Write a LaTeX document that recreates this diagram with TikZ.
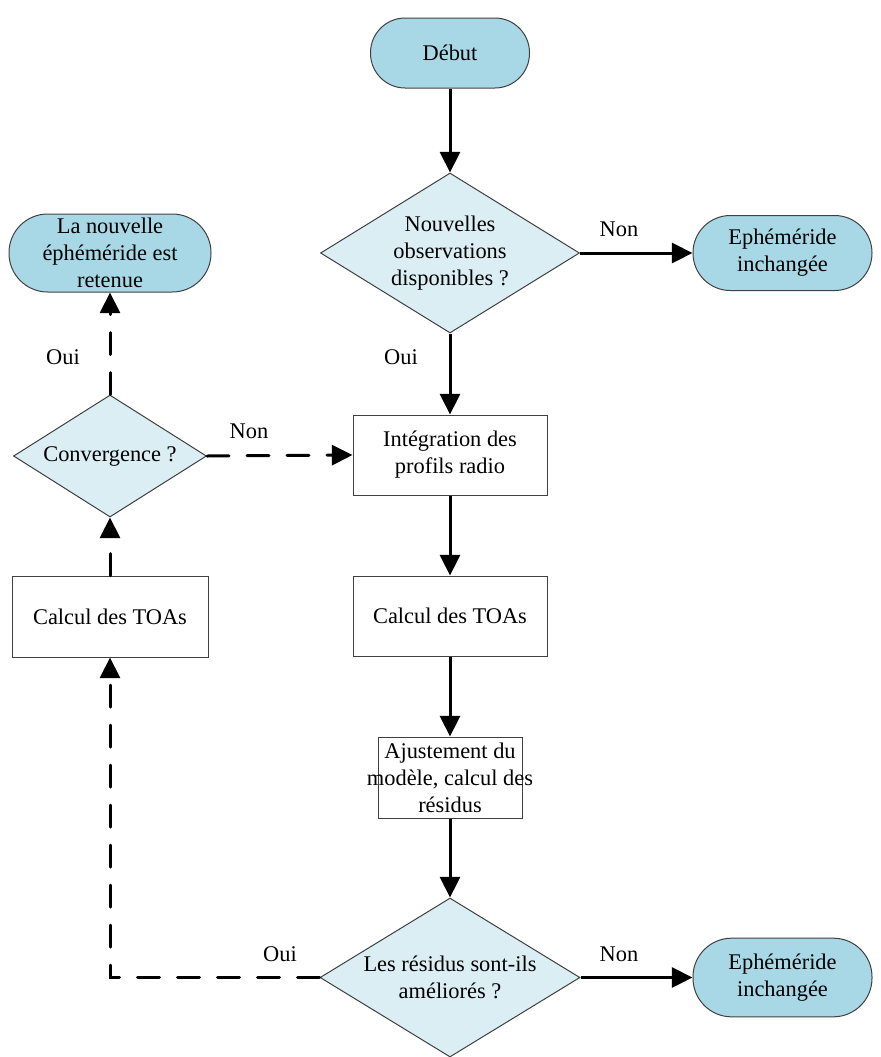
\documentclass[tikz,border=0pt]{standalone}
\usepackage{fontspec}
\setmainfont{Liberation Serif}
\usetikzlibrary{shapes.geometric,arrows.meta}
\definecolor{termfill}{RGB}{168,216,230}
\definecolor{diafill}{RGB}{218,238,243}
\definecolor{edgegray}{RGB}{64,64,64}
\begin{document}
\begin{tikzpicture}[x=0.75pt,y=-0.75pt,
  every node/.style={font=\fontsize{16.8}{20.25}\selectfont, text=black},
  term/.style={draw=edgegray, line width=0.75pt, fill=termfill, rectangle, inner sep=0pt, align=center},
  procbox/.style={draw=edgegray, line width=0.75pt, fill=white, rectangle, inner sep=0pt, align=center},
  decision/.style={draw=edgegray, line width=0.75pt, fill=diafill, diamond, inner sep=0pt},
  txt/.style={align=center, inner sep=0pt},
  lbl/.style={inner sep=0pt},
  arr/.style={line width=2.25pt, -{Triangle[length=15.5pt,width=15pt]}},
  darr/.style={line width=2.25pt, line cap=round, dash pattern=on 16.5pt off 13.5pt, -{Triangle[length=15.5pt,width=15pt]}}
]
\useasboundingbox (0,0) rectangle (881,1057);

% main column
\node[term, minimum width=119.25pt, minimum height=52.5pt, rounded corners=26pt] (debut) at (450,53) {Début};
\node[decision, minimum width=194.25pt, minimum height=120pt] (d1) at (450,253) {};
\node[txt] (d1t) at (d1) {Nouvelles\\observations\\disponibles ?};
\node[term, minimum width=134.25pt, minimum height=56.25pt, rounded corners=28pt] (eph1) at (782.5,253) {Ephéméride\\inchangée};
\node[procbox, minimum width=145.5pt, minimum height=60pt] (box1) at (450,455) {Intégration des\\profils radio};
\node[procbox, minimum width=145.5pt, minimum height=60pt] (box2) at (450,616) {Calcul des TOAs};
\node[procbox, minimum width=108pt, minimum height=60.75pt] (box3) at (450,777.5) {};
\node[txt] (box3t) at (box3) {Ajustement du\\modèle, calcul des\\résidus};
\node[decision, minimum width=195pt, minimum height=119.25pt] (d2) at (450,977.5) {};
\node[txt] (d2t) at (d2) {Les résidus sont-ils\\améliorés ?};
\node[term, minimum width=134.25pt, minimum height=59pt, rounded corners=29pt] (eph2) at (782.5,977.5) {Ephéméride\\inchangée};

% left column
\node[procbox, minimum width=147pt, minimum height=60.75pt] (calc2) at (110,616.5) {Calcul des TOAs};
\node[decision, minimum width=144.75pt, minimum height=91.5pt] (conv) at (110,456) {};
\node[txt] (convt) at (conv) {Convergence ?};
\node[term, minimum width=151.5pt, minimum height=58.5pt, rounded corners=29pt] (ret) at (110,253) {La nouvelle\\éphéméride est\\retenue};

% connectors
\draw[arr] (debut) -- (d1);
\draw[arr] (d1.east) -- (eph1.west);
\draw[arr] (d1.south) -- (box1.north);
\draw[arr] (box1) -- (box2);
\draw[arr] (box2) -- (box3);
\draw[arr] (box3) -- (d2);
\draw[arr] (d2.east) -- (eph2.west);
\draw[darr] (d2.west) -| (calc2.south);
\draw[darr] (calc2.north) -- (conv.south);
\draw[darr] (conv.east) -- (box1.west);
\draw[darr] (conv.north) -- (ret.south);

% labels
\node[lbl] (l1) at (619,229) {Non};
\node[lbl] (l2) at (401,357) {Oui};
\node[lbl] (l3) at (249,431) {Non};
\node[lbl] (l4) at (63,357) {Oui};
\node[lbl] (l5) at (280,954) {Oui};
\node[lbl] (l6) at (619,954) {Non};
\end{tikzpicture}
\end{document}
